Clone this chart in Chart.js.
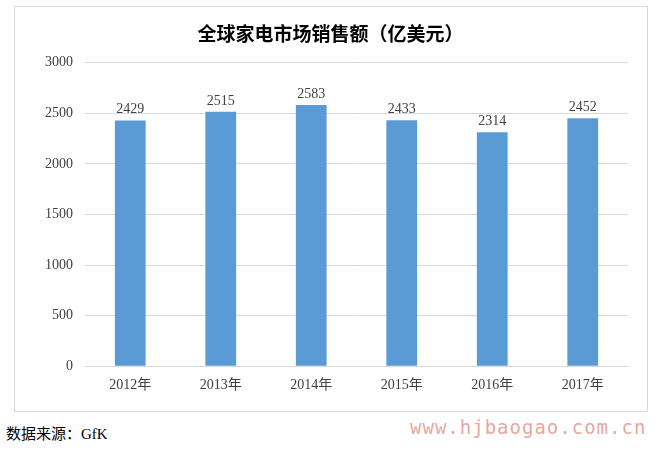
<!DOCTYPE html>
<html><head><meta charset="utf-8">
<script src="https://cdn.jsdelivr.net/npm/chart.js@4"></script>
<style>
body{margin:0;background:#fff;width:660px;height:451px;position:relative;overflow:hidden;font-family:"Liberation Serif","Noto Sans CJK SC",serif}
#box{position:absolute;left:14px;top:6px;width:632px;height:404px;border:1px solid #d9d9d9}
#wrap{position:absolute;left:15px;top:7px;width:632px;height:404px}
#src{position:absolute;left:6px;top:422px;font-size:15px;color:#000}
#wm{position:absolute;left:410px;top:416px;font-size:19px;color:#e8a7a0;font-family:"DejaVu Sans Mono",monospace;letter-spacing:1px}
</style></head><body>
<div id="box"></div>
<div id="wrap"><canvas id="c"></canvas></div>
<div id="src">数据来源：GfK</div>
<div id="wm">www.hjbaogao.com.cn</div>
<script>
const categories=["2012年","2013年","2014年","2015年","2016年","2017年"];
const values=[2429,2515,2583,2433,2314,2452];
const titleText="全球家电市场销售额（亿美元）";
const labelPlugin={id:'lbl',afterDatasetsDraw(ch){const c=ch.ctx;const m=ch.getDatasetMeta(0);c.save();c.font='14px "Liberation Serif","Noto Sans CJK SC",serif';c.fillStyle='#404040';c.textAlign='center';c.textBaseline='bottom';m.data.forEach((b,i)=>c.fillText(values[i],b.x,b.y-4));c.restore();}};
new Chart(document.getElementById('c'),{type:'bar',data:{labels:categories,datasets:[{data:values,backgroundColor:'#5b9bd5',barPercentage:0.34,categoryPercentage:1}]},
options:{responsive:true,maintainAspectRatio:false,animation:false,layout:{padding:{left:18,right:19,top:7,bottom:14}},
plugins:{legend:{display:false},tooltip:{enabled:false},title:{display:true,text:titleText,color:'#000',font:{size:19,weight:'bold',family:'"Noto Sans CJK SC",serif'},padding:{top:8,bottom:18}}},
scales:{y:{min:0,max:3000,ticks:{stepSize:500,color:'#404040',callback:v=>String(v),font:{size:14,family:'"Liberation Serif",serif'},padding:12},grid:{color:'#d9d9d9',drawTicks:false},border:{display:false}},
x:{ticks:{color:'#404040',font:{size:14,family:'"Liberation Serif","Noto Sans CJK SC",serif'}},grid:{display:false},border:{color:'#d9d9d9'}}}},plugins:[labelPlugin]});
</script></body></html>
